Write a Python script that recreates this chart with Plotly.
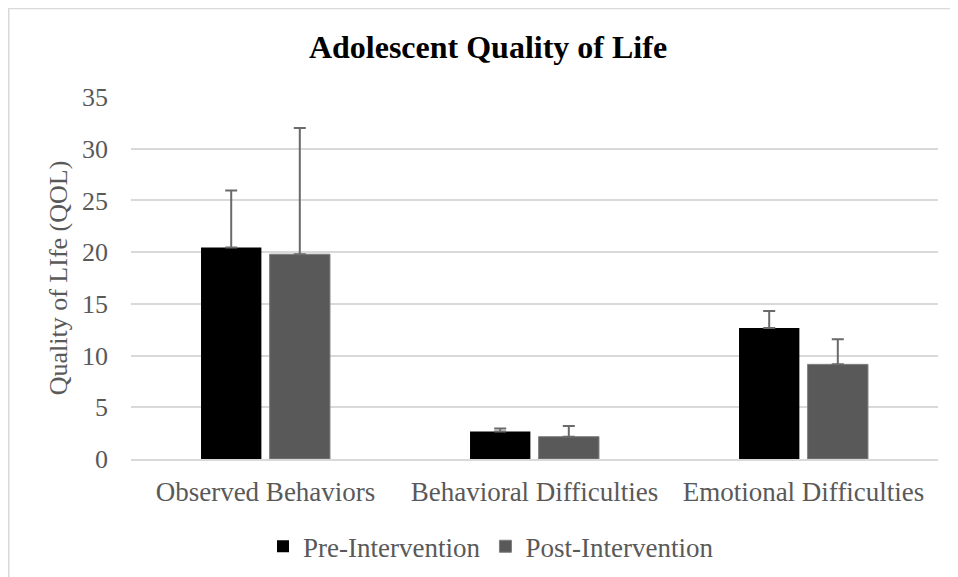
import plotly.graph_objects as go

categories = ["Observed Behaviors", "Behavioral Difficulties", "Emotional Difficulties"]
pre_values = [20.45, 2.67, 12.67]
post_values = [19.8, 2.16, 9.15]
pre_err_plus = [5.5, 0.29, 1.63]
post_err_plus = [12.2, 1.03, 2.42]

# The page has an 8px body margin, so the figure is sized/placed accordingly
W, H = 950, 569
L, R, T = 123, 20, 89.3
B = H - 451.3
pw = W - L - R
ph = H - T - B

font_family = "Liberation Serif, Times New Roman, serif"
gray = "#595959"

fig = go.Figure()
fig.add_trace(go.Bar(
    x=categories, y=pre_values, name="Pre-Intervention",
    marker=dict(color="#000000", line=dict(width=0)),
    error_y=dict(type="data", array=pre_err_plus, arrayminus=[0, 0, 0], symmetric=False,
                 color="#6a6a6a", thickness=2, width=6),
))
fig.add_trace(go.Bar(
    x=categories, y=post_values, name="Post-Intervention",
    marker=dict(color="#595959", line=dict(color="#7f7f7f", width=1)),
    error_y=dict(type="data", array=post_err_plus, arrayminus=[0, 0, 0], symmetric=False,
                 color="#6a6a6a", thickness=2, width=6),
))

def px_x(x):
    return (x - L) / pw

def px_y(y):
    return (H - B - y) / ph

fig.update_layout(
    width=W, height=H,
    margin=dict(l=L, r=R, t=T, b=B, autoexpand=False),
    paper_bgcolor="white", plot_bgcolor="white",
    barmode="group", bargap=0.49, bargroupgap=0.12,
    font=dict(family=font_family, color=gray, size=26),
    title=dict(text="<b>Adolescent Quality of Life</b>", x=480 / W, xanchor="center",
               y=1 - 38.5 / H, yanchor="middle",
               font=dict(family=font_family, size=32, color="#000000")),
    xaxis=dict(showgrid=False, showline=True, linecolor="#d9d9d9", linewidth=2,
               ticks="", tickfont=dict(family=font_family, size=27, color=gray),
               ticklabelstandoff=8, automargin=False),
    yaxis=dict(range=[0, 35], dtick=5, showgrid=True, gridcolor="#d9d9d9", gridwidth=1.5,
               zeroline=False, showline=False, ticks="", automargin=False,
               tickfont=dict(family=font_family, size=26, color=gray), ticklabelstandoff=22,
               title=dict(text="Quality of LIfe (QOL)",
                          font=dict(family=font_family, size=26, color=gray), standoff=6)),
    legend=dict(orientation="h", x=px_x(483), xanchor="center",
                y=px_y(539), yanchor="middle", bgcolor="rgba(0,0,0,0)",
                font=dict(family=font_family, size=27, color=gray),
                itemwidth=30, tracegroupgap=0),
    showlegend=True,
    shapes=[dict(type="rect", xref="paper", yref="paper",
                 x0=px_x(0.75), x1=px_x(W + 20), y0=px_y(H + 20), y1=px_y(0.75),
                 line=dict(color="#d9d9d9", width=1.5), fillcolor="rgba(0,0,0,0)", layer="below")],
)

fig.write_html("out.html")
